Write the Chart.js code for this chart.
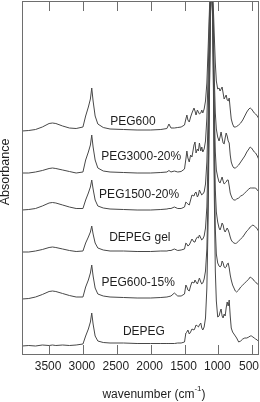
<!DOCTYPE html>
<html><head><meta charset="utf-8">
<script src="https://cdn.jsdelivr.net/npm/chart.js@4/dist/chart.umd.min.js"></script>
<style>html,body{margin:0;padding:0;background:#fff;overflow:hidden;}canvas{display:block;}</style>
</head><body>
<canvas id="c" width="260" height="402"></canvas>
<script>
// wavenumber grid (cm-1), shared by all spectra
const wavenumbers = [
 3900,3800,3700,3600,3500,3450,3400,3300,3200,3100,
 3000,2960,2920,2890,2870,2850,2820,2780,2700,2600,
 2400,2200,2000,1850,1760,1730,1700,1650,1600,1550,
 1500,1480,1465,1450,1430,1410,1390,1360,1345,1330,
 1310,1295,1280,1260,1245,1230,1210,1190,1170,1150,
 1130,1115,1100,1085,1070,1060,1045,1030,1010,990,
 975,960,945,930,915,900,885,870,855,840,
 825,810,790,770,750,730,700,670,640,610,
 580,550,530,510,490,470,450,425,400];

const seriesNames = ['PEG600','PEG3000-20%','PEG1500-20%','DEPEG gel','PEG600-15%','DEPEG'];
// vertical stacking offsets (absorbance units of the plot)
const offsets = [224, 182, 145, 103, 56, 9];

const peg600 = [
 0,0.5,1.5,4,7.5,8,7.5,5,3,2.5,
 4,15,24,32,43,30,15,7,3.5,2,
 1.5,1,1,1.5,2.5,7,3,3,3.5,4,
 6,12,16,11,9,14,18,23,20,16,
 21,19,17,18,21,18,22,30,48,85,
 125,145,150,140,115,95,68,50,42,43,
 40,42,44,38,32,34,36,31,30,33,
 22,12,7,4,4,4.5,6,8,11,15,
 19,22,23,22,20,18,17,15,12];

const peg3000 = [
 0,0,1,2.5,4.5,5,4.5,3,1.5,0,
 1,13,21,28,38,26,13,5,2,1,
 0.5,0,0,0.5,1,2.5,1,2,1,1.5,
 4,14,22,15,11,18,16,28,31,20,
 24,22,30,22,26,21,24,32,55,100,
 160,185,195,180,135,95,60,44,36,32,
 36,41,35,30,29,35,40,37,32,30,
 18,11,7,5,5,6,8,11,14,17,
 21,24,26,25,23,21,20,17,13];

const peg1500 = [
 0,0.5,1.5,4,7,7.5,7,5,3,1.5,
 1.5,10,17,23,30,21,10,4,2,1,
 0.5,0,0,0.5,1,1.5,1.5,3,1.5,1.5,
 3,8,7,6,5,10,15,14,17,18,
 13,15,20,17,15,16,18,26,48,95,
 170,210,225,205,145,100,58,40,33,28,
 27,30,33,29,26,27,28,30,30,24,
 17,14,11,10,10,11,12,14,15,17,
 19,21,22,22,22,22,22,20,18];

const depegGel = [
 0,0,1,2.5,4.5,5,4.5,3,1.5,0.5,
 1,9,15,20,26,18,9,4,2,1,
 1,0.5,0.5,1,1,1.5,1.5,3,1.5,2,
 3,9,8,6,7,10,13,10,10,13,
 15,14,17,14,12,13,16,24,45,100,
 195,250,270,245,175,115,62,40,30,24,
 22,25,29,27,22,20,22,24,22,19,
 15,12,10,9,8.5,9,11,13,15,18,
 21,23,25,26,27,26,25,23,20];

const peg600_15 = [
 0,0.5,2,4.5,7.5,8,7.5,5.5,3.5,2,
 2,12,19,26,34,23,11,5,3,2,
 1.5,1,1,1.5,2,2.5,3,6,3,3,
 5,14,12,9,8,13,17,16,19,17,
 15,18,21,17,15,16,20,28,50,110,
 220,285,310,285,200,130,70,45,36,33,
 32,33,38,36,32,31,32,35,36,31,
 24,19,14,11,8,7,9,12,14,16,
 18,20,22,21,20,18,17,15,14];

const depeg = [
 0,0.5,0,1,0.5,1,0.5,1,0.5,1,
 2,10,17,24,33,22,10,5,3.5,3,
 3,2.5,2.5,2.5,2.5,2.5,2.5,2.5,3,3,
 4,13,14,16,12,14,17,16,18,21,
 20,19,21,23,18,16,19,28,58,130,
 260,335,365,335,235,150,75,45,29,30,
 34,37,30,28,32,30,38,44,40,46,
 30,18,14,12,10,8,4,5,7,8,
 8,9,10,10,9,8,7,6,4];

const seriesValues = [peg600, peg3000, peg1500, depegGel, peg600_15, depeg];
const xTicks = [500, 1000, 1500, 2000, 2500, 3000, 3500];
const xTitle = ['wavenumber (cm', '-1', ')'];
const yTitle = 'Absorbance';
// label anchors in data coordinates (wavenumber, plot value)
const labelWn = [2262, 2140, 2170, 2160, 2185, 2100];
const labelVal = [233, 198, 160, 117, 72, 23];

const FONT = '"Liberation Sans", Arial, Helvetica, sans-serif';
const lineColor = '#484848';
const frameColor = '#6e6e6e';
const textColor = '#1e1e1e';

const datasets = seriesNames.map((name, i) => ({
  label: name,
  data: wavenumbers.map((w, k) => ({x: w, y: seriesValues[i][k] + offsets[i]})),
  borderColor: lineColor,
  borderWidth: 1,
  pointRadius: 0,
  tension: 0,
  fill: false
}));

const overlay = {
  id: 'overlay',
  afterDraw(chart) {
    const {ctx, chartArea: a, scales: {x, y}} = chart;
    ctx.save();
    ctx.strokeStyle = frameColor;
    ctx.lineWidth = 1;
    ctx.strokeRect(a.left + 0.5, a.top + 0.5, a.right - a.left - 1, a.bottom - a.top - 1);
    ctx.beginPath();
    xTicks.forEach(v => {
      const px = Math.round(x.getPixelForValue(v)) + 0.5;
      ctx.moveTo(px, a.bottom); ctx.lineTo(px, a.bottom - 10);
      ctx.moveTo(px, a.top); ctx.lineTo(px, a.top + 10);
    });
    ctx.stroke();

    ctx.fillStyle = textColor;
    ctx.font = '12px ' + FONT;
    ctx.textAlign = 'center';
    ctx.textBaseline = 'middle';
    // tick labels, kept inside the canvas
    xTicks.forEach(v => {
      const t = String(v);
      const hw = ctx.measureText(t).width / 2;
      const cx = Math.min(x.getPixelForValue(v) - 1, chart.width - 1 - hw);
      ctx.fillText(t, cx, a.bottom + 11.5);
    });
    seriesNames.forEach((n, i) => {
      ctx.fillText(n, x.getPixelForValue(labelWn[i]), y.getPixelForValue(labelVal[i]));
    });

    // x axis title with superscript
    const w0 = ctx.measureText(xTitle[0]).width;
    ctx.font = '8px ' + FONT;
    const w1 = ctx.measureText(xTitle[1]).width;
    ctx.font = '12px ' + FONT;
    const w2 = ctx.measureText(xTitle[2]).width;
    const total = w0 + w1 + w2;
    let sx = 154 - total / 2;
    const ty = 395;
    ctx.textAlign = 'left';
    ctx.fillText(xTitle[0], sx, ty);
    ctx.font = '8px ' + FONT;
    ctx.fillText(xTitle[1], sx + w0, ty - 6);
    ctx.font = '12px ' + FONT;
    ctx.fillText(xTitle[2], sx + w0 + w1, ty);

    // y axis title
    ctx.translate(6, 172);
    ctx.rotate(-Math.PI / 2);
    ctx.textAlign = 'center';
    ctx.font = '12.5px ' + FONT;
    ctx.fillText(yTitle, 0, 0);
    ctx.restore();
  }
};

new Chart(document.getElementById('c'), {
  type: 'line',
  data: {datasets},
  plugins: [overlay],
  options: {
    responsive: false,
    animation: false,
    devicePixelRatio: 1,
    layout: {autoPadding: false, padding: {left: 0, right: 1, top: 1, bottom: 0}},
    plugins: {legend: {display: false}, tooltip: {enabled: false}},
    scales: {
      x: {
        type: 'linear', reverse: true, min: 400, max: 3900,
        afterBuildTicks: s => { s.ticks = xTicks.map(v => ({value: v})); },
        afterFit: s => { s.height = 47; },
        grid: {display: false, drawTicks: false},
        border: {display: false},
        ticks: {display: false}
      },
      y: {
        type: 'linear', min: 0, max: 354,
        afterFit: s => { s.width = 22; },
        ticks: {display: false},
        grid: {display: false, drawTicks: false},
        border: {display: false}
      }
    }
  }
});
</script>
</body></html>
